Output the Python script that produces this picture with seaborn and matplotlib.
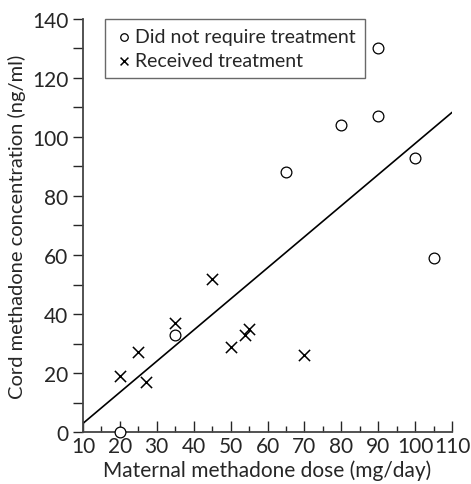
"""Cord vs maternal methadone scatter with fitted line"""
import numpy as np
import pandas as pd
import seaborn as sns
import matplotlib.pyplot as plt
from matplotlib.ticker import MultipleLocator

# Infants who did not require treatment
no_treat_dose = [20, 35, 65, 80, 90, 90, 100, 105]
no_treat_conc = [0, 33, 88, 104, 107, 130, 93, 59]
# Infants who received treatment
treat_dose = [20, 25, 27, 35, 45, 50, 54, 55, 70]
treat_conc = [19, 27, 17, 37, 52, 29, 33, 35, 26]

groups = ['Did not require treatment', 'Received treatment']

df = pd.DataFrame({
    'dose': no_treat_dose + treat_dose,
    'conc': no_treat_conc + treat_conc,
    'group': [groups[0]] * len(no_treat_dose) + [groups[1]] * len(treat_dose),
})

sns.set_style('ticks')
plt.rcParams['font.family'] = ['Lato', 'DejaVu Sans']

fig = plt.figure(figsize=(4.71, 4.85), dpi=100)
ax = fig.add_axes([0.176, 0.107, 0.784, 0.852])

# regression line over all infants
slope, icpt = np.polyfit(df['dose'], df['conc'], 1)
xs = np.array([10, 110])
ax.plot(xs, icpt + slope * xs, color='black', lw=1.2)

# two calls since seaborn won't mix filled and line-art markers
sns.scatterplot(data=df[df['group'] == groups[0]], x='dose', y='conc',
                marker='o', s=60, facecolor='white', edgecolor='black',
                linewidth=0.9, clip_on=False, zorder=3, label=groups[0], ax=ax)
sns.scatterplot(data=df[df['group'] == groups[1]], x='dose', y='conc',
                marker='x', s=65, color='black', linewidth=1.1,
                clip_on=False, zorder=3, label=groups[1], ax=ax)

ax.set_xlim(10, 110)
ax.set_ylim(0, 140)
ax.xaxis.set_major_locator(MultipleLocator(10))
ax.xaxis.set_minor_locator(MultipleLocator(5))
ax.yaxis.set_major_locator(MultipleLocator(20))
ax.yaxis.set_minor_locator(MultipleLocator(10))
ax.tick_params(axis='x', which='major', direction='in', length=8, width=1, labelsize=15, pad=3)
ax.tick_params(axis='x', which='minor', direction='in', length=4, width=1)
ax.tick_params(axis='y', which='both', direction='out', length=7, width=1, labelsize=15)
for s in ['top', 'right']:
    ax.spines[s].set_visible(False)
for s in ['left', 'bottom']:
    ax.spines[s].set_color('#444444')
    ax.spines[s].set_linewidth(1.3)

ax.set_xlabel('Maternal methadone dose (mg/day)', fontsize=15, labelpad=2)
ax.set_ylabel('Cord methadone concentration (ng/ml)', fontsize=14.5, labelpad=4)

leg = ax.legend(loc='upper left', bbox_to_anchor=(0.06, 1.0), fontsize=14,
                frameon=True, fancybox=False, edgecolor='#444444',
                handletextpad=0.1, borderpad=0.45, labelspacing=0.4,
                handlelength=1.0, markerscale=0.7, borderaxespad=0)
leg.get_frame().set_linewidth(1.0)

plt.savefig('out.png', dpi=100)
plt.close()
